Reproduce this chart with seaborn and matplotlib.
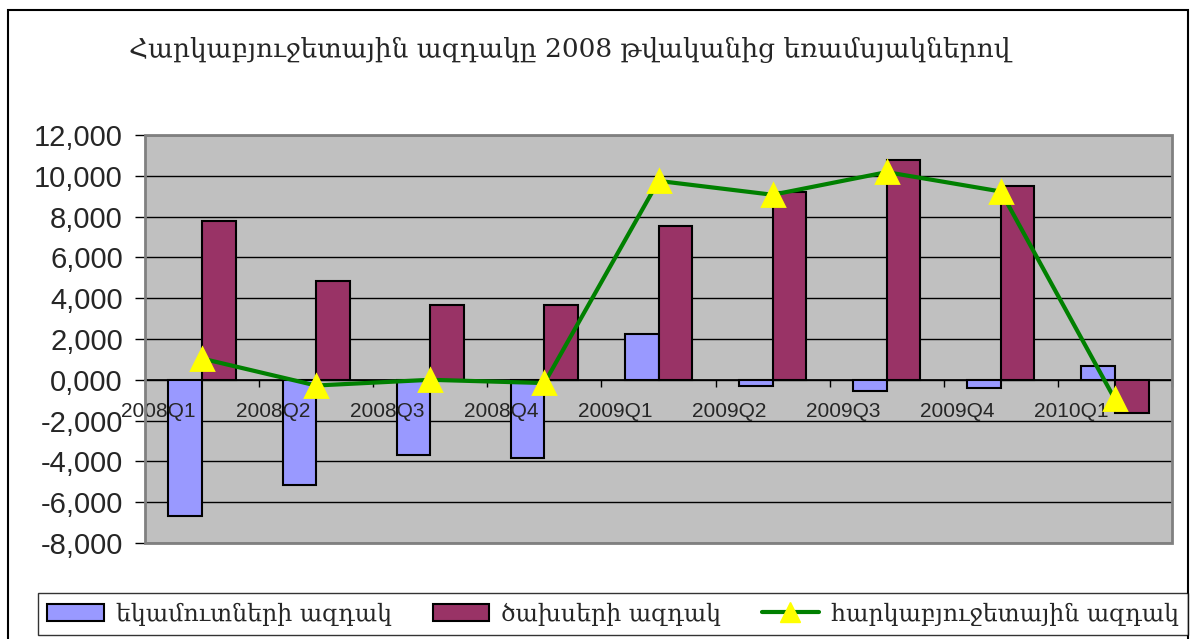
import numpy as np
import pandas as pd
import seaborn as sns
import matplotlib.pyplot as plt
from matplotlib.patches import Patch, Rectangle
from matplotlib.lines import Line2D

# data
quarters = ['2008Q1', '2008Q2', '2008Q3', '2008Q4', '2009Q1',
            '2009Q2', '2009Q3', '2009Q4', '2010Q1']
revenue = [-6670, -5150, -3670, -3850, 2250, -290, -570, -390, 680]
expenses = [7800, 4820, 3650, 3680, 7530, 9220, 10780, 9510, -1640]
fiscal = [1040, -280, 0, -160, 9750, 9070, 10180, 9230, -960]

series_names = ['եկամուտների ազդակ', 'ծախսերի ազդակ', 'հարկաբյուջետային ազդակ']
title = 'Հարկաբյուջետային ազդակը 2008 թվականից եռամսյակներով'
yticks = [12000, 10000, 8000, 6000, 4000, 2000, 0, -2000, -4000, -6000, -8000]
ytick_labels = ['12,000', '10,000', '8,000', '6,000', '4,000', '2,000',
                '0,000', '-2,000', '-4,000', '-6,000', '-8,000']

sns.set_theme(style='white')
plt.rcParams['font.family'] = ['Liberation Sans', 'DejaVu Sans']
arm_font = ['DejaVu Serif', 'DejaVu Sans']

bars = pd.DataFrame({
    'quarter': quarters * 2,
    'value': revenue + expenses,
    'series': [series_names[0]] * len(quarters) + [series_names[1]] * len(quarters),
})

fig = plt.figure(figsize=(11.91, 6.39), dpi=100)
ax = fig.add_axes([145 / 1191, 96 / 639, 1027 / 1191, 408 / 639])
ax.set_facecolor('#C0C0C0')

sns.barplot(data=bars, x='quarter', y='value', hue='series',
            palette=['#9999FF', '#993366'], saturation=1, width=0.59, gap=0,
            edgecolor='black', linewidth=1.5, legend=False, ax=ax, zorder=3)

sns.pointplot(x=quarters, y=fiscal, color='#008000', markers='^',
              errorbar=None, ax=ax)
line = ax.lines[-1]
line.set_linewidth(3)
line.set_markersize(16)
line.set_markerfacecolor('#FFFF00')
line.set_markeredgecolor('#FFFF00')
line.set_zorder(5)

ax.set_ylim(-8000, 12000)
ax.set_xlim(-0.5, len(quarters) - 0.5)
ax.set_yticks(yticks)
ax.set_yticklabels(ytick_labels, fontsize=21)
ax.set_xlabel('')
ax.set_ylabel('')

# horizontal gridlines
for v in yticks:
    ax.axhline(v, color='black', linewidth=1, zorder=1)

# category axis sits on the zero line
ax.spines['bottom'].set_position(('data', 0))
ax.spines['bottom'].set_color('black')
ax.spines['bottom'].set_zorder(2)
for side in ['top', 'right', 'left']:
    ax.spines[side].set_visible(False)
ax.add_patch(Rectangle((0, 0), 1, 1, transform=ax.transAxes, fill=False,
                       edgecolor='#808080', linewidth=2, zorder=6, clip_on=False))
ax.set_xticks(np.arange(len(quarters)) + 0.5)
ax.set_xticklabels([])
ax.tick_params(axis='x', bottom=True, direction='out', length=5, width=1, color='black')
ax.tick_params(axis='y', left=True, direction='out', length=7, width=1,
               color='black', pad=9)
for i, q in enumerate(quarters):
    ax.text(i - 0.38, -1530, q, ha='center', va='center', fontsize=15, zorder=4)

fig.text(570 / 1191, 1 - 50 / 639, title, ha='center', va='center',
         fontsize=19, family=arm_font)

handles = [
    Patch(facecolor='#9999FF', edgecolor='black', linewidth=1.5),
    Patch(facecolor='#993366', edgecolor='black', linewidth=1.5),
    Line2D([], [], color='#008000', linewidth=3, marker='^', markersize=14,
           markerfacecolor='#FFFF00', markeredgecolor='#FFFF00'),
]
leg = fig.legend(handles, series_names, loc='lower left', ncol=3,
                 bbox_to_anchor=(38 / 1191, 1 - 635 / 639, 1150 / 1191, 48 / 639),
                 mode='expand', frameon=True, fancybox=False, borderaxespad=0,
                 prop={'family': arm_font, 'size': 17}, handlelength=2.4,
                 handleheight=0.7, handletextpad=0.5, columnspacing=1.5)
leg.get_frame().set_edgecolor('black')
leg.get_frame().set_linewidth(1)

fig.patches.append(Rectangle((8 / 1191, -0.05), 1180 / 1191, 1.05 - 10 / 639,
                             transform=fig.transFigure, fill=False,
                             edgecolor='black', linewidth=1.5))

fig.savefig('out.png', dpi=100)
